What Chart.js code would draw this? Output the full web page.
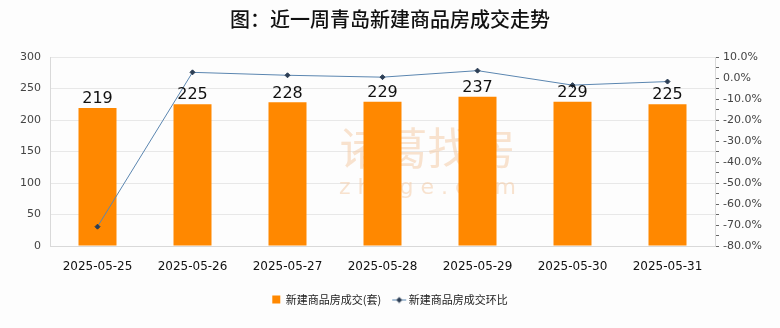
<!DOCTYPE html>
<html>
<head>
<meta charset="utf-8">
<script src="https://cdn.jsdelivr.net/npm/chart.js@4"></script>
<style>
  html, body { margin: 0; padding: 0; background: #fdfdfd; }
  #wrap { width: 780px; height: 328px; position: relative; }
</style>
</head>
<body>
<div id="wrap"><canvas id="chart"></canvas></div>
<script>
const categories = ['2025-05-25', '2025-05-26', '2025-05-27', '2025-05-28', '2025-05-29', '2025-05-30', '2025-05-31']
const deals = [219, 225, 228, 229, 237, 229, 225]
const momChange = [-70.8, 2.7, 1.3, 0.4, 3.5, -3.4, -1.7]
const leftTicks = [0, 50, 100, 150, 200, 250, 300]
const rightTicks = [10, 0, -10, -20, -30, -40, -50, -60, -70, -80]

const titleText = '图：近一周青岛新建商品房成交走势'
const cjk = '"Noto Sans CJK SC", "Noto Sans", sans-serif'

// legend icon for the line series: short line with a diamond
const lineIcon = document.createElement('canvas')
lineIcon.width = 16
lineIcon.height = 8
{
  const c = lineIcon.getContext('2d')
  c.strokeStyle = '#5b86b0'
  c.lineWidth = 1
  c.beginPath(); c.moveTo(1, 4.5); c.lineTo(15, 4.5); c.stroke()
  c.fillStyle = '#2c3e55'
  c.beginPath(); c.moveTo(8, 1.5); c.lineTo(11, 4.5); c.lineTo(8, 7.5); c.lineTo(5, 4.5); c.closePath(); c.fill()
}

// title + watermark drawn on the canvas
const decor = {
  id: 'decor',
  beforeDatasetsDraw(chart) {
    const { ctx, chartArea } = chart
    const cx = (chartArea.left + chartArea.right) / 2
    ctx.save()
    ctx.fillStyle = 'rgba(243, 200, 160, 0.5)'
    ctx.textAlign = 'center'
    ctx.textBaseline = 'middle'
    ctx.font = '44px ' + cjk
    ctx.fillText('诸葛找房', cx + 45, 148)
    ctx.font = '22px "DejaVu Sans", sans-serif'
    ctx.fillText('z h u g e . c o m', cx + 45, 188)
    ctx.restore()
  },
  afterDraw(chart) {
    const { ctx } = chart
    ctx.save()
    ctx.fillStyle = '#111'
    ctx.font = '500 20px ' + cjk
    ctx.textAlign = 'center'
    ctx.textBaseline = 'middle'
    ctx.fillText(titleText, 390, 19)
    ctx.restore()
  }
}

// numbers above each bar
const barValues = {
  id: 'barValues',
  afterDatasetsDraw(chart) {
    const { ctx } = chart
    const meta = chart.getDatasetMeta(1)
    ctx.save()
    ctx.fillStyle = '#111'
    ctx.font = '16px "DejaVu Sans", sans-serif'
    ctx.textAlign = 'center'
    ctx.textBaseline = 'bottom'
    meta.data.forEach((bar, i) => {
      ctx.fillText(String(deals[i]), bar.x, bar.y - 1)
    })
    ctx.restore()
  }
}

const ctx = document.getElementById('chart').getContext('2d')
const data = {
  labels: categories,
  datasets: [
    {
      type: 'line',
      label: '新建商品房成交环比',
      data: momChange,
      yAxisID: 'y1',
      borderColor: '#5b86b0',
      borderWidth: 1,
      pointStyle: 'rectRot',
      pointRadius: 2.5,
      pointBackgroundColor: '#2c3e55',
      pointBorderColor: '#2c3e55',
      tension: 0,
      order: 0
    },
    {
      type: 'bar',
      label: '新建商品房成交(套)',
      data: deals,
      yAxisID: 'y',
      backgroundColor: '#ff8800',
      barPercentage: 0.4,
      categoryPercentage: 1,
      order: 1
    }
  ]
}

const options = {
  responsive: true,
  maintainAspectRatio: false,
  animation: false,
  layout: { padding: { top: 57, left: 0, right: 0, bottom: 13 } },
  plugins: {
    legend: {
      position: 'bottom',
      reverse: true,
      labels: {
        color: '#222',
        font: { size: 11, family: cjk },
        boxWidth: 8,
        boxHeight: 8,
        padding: 14,
        usePointStyle: true,
        generateLabels: (chart) => {
          const items = Chart.defaults.plugins.legend.labels.generateLabels(chart)
          items.forEach(it => {
            if (it.datasetIndex === 0) {
              it.pointStyle = lineIcon
            } else {
              it.pointStyle = 'rect'
              it.fillStyle = '#ff8800'
              it.strokeStyle = '#ff8800'
            }
          })
          return items
        }
      }
    },
    tooltip: { enabled: false }
  },
  scales: {
    x: {
      ticks: { color: '#111', font: { size: 12, family: '"DejaVu Sans", sans-serif' }, maxRotation: 0, padding: 6 },
      grid: { display: false },
      border: { color: '#d9d9d9' },
      afterFit: (s) => { s.height = 34 }
    },
    y: {
      position: 'left',
      min: 0,
      max: 300,
      afterBuildTicks: (s) => { s.ticks = leftTicks.map(v => ({ value: v })) },
      ticks: { color: '#444', font: { size: 11, family: '"DejaVu Sans", sans-serif' }, padding: 9 },
      grid: { color: '#e8e8e8', drawTicks: false },
      border: { color: '#d9d9d9' },
      afterFit: (s) => { s.width = 50 }
    },
    y1: {
      position: 'right',
      min: -80,
      max: 10,
      afterBuildTicks: (s) => {
        const t = []
        for (let v = 10; v >= -80; v -= 5) t.push({ value: v })
        s.ticks = t
      },
      ticks: {
        color: '#444',
        font: { size: 11, family: '"DejaVu Sans", sans-serif' },
        padding: 4,
        autoSkip: false,
        callback: (v) => rightTicks.includes(v) ? v.toFixed(1) + '%' : ''
      },
      grid: { drawOnChartArea: false, tickLength: 4, color: '#666' },
      border: { color: '#d9d9d9' },
      afterFit: (s) => { s.width = 65 }
    }
  }
}

new Chart(ctx, { type: 'bar', data, options, plugins: [decor, barValues] })
</script>
</body>
</html>
